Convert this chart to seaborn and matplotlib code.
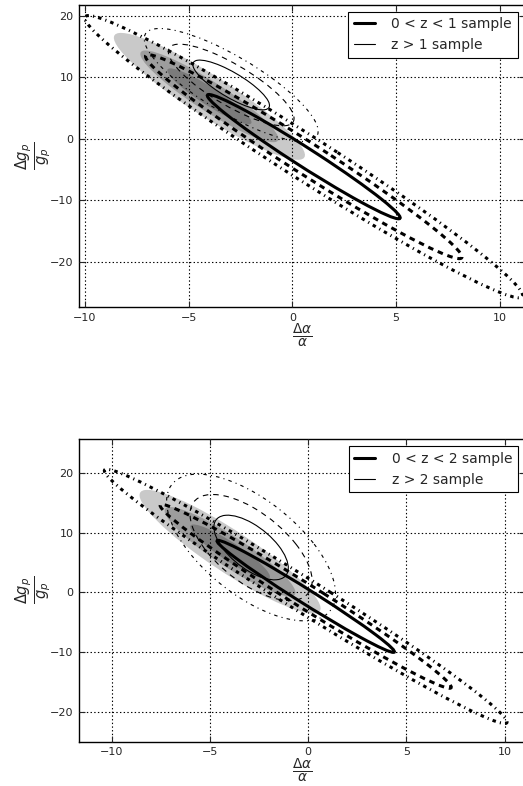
"""Confidence ellipses for dalpha/alpha vs dg_p/g_p, two redshift splits"""
import numpy as np
import matplotlib
matplotlib.use("Agg")
import matplotlib.pyplot as plt
from matplotlib.patches import Ellipse
from matplotlib.lines import Line2D
import seaborn as sns

# sqrt(chi2, 2 dof) for the 1, 2 and 3 sigma contours
levels = [1.515, 2.486, 3.439]

# full sample (shaded), same in both panels: centre, sigma_x, sigma_y, rho
full_center = [(-4.0, 6.9), (-3.97, 6.8)]
full_sigma = [(1.34, 3.0), (1.34, 3.0)]
full_rho = [-0.925, -0.915]

# low redshift sample (thick lines)
low_center = [(0.55, -2.9), (-0.12, -0.65)]
low_sigma = [(3.07, 6.67), (2.98, 6.17)]
low_rho = [-0.983, -0.988]

# high redshift sample (thin lines)
high_center = [(-2.95, 8.75), (-2.9, 7.5)]
high_sigma = [(1.22, 2.67), (1.25, 3.56)]
high_rho = [-0.82, -0.63]

legend_low = ["0 < z < 1 sample", "0 < z < 2 sample"]
legend_high = ["z > 1 sample", "z > 2 sample"]

xlims = [(-10.29, 11.2), (-11.66, 11.02)]
ylims = [(-27.4, 21.8), (-24.9, 25.6)]
xticks = [-10, -5, 0, 5, 10]
yticks = [-20, -10, 0, 10, 20]

fill_colors = ["#c9c9c9", "#9d9d9d", "#7b7b7b"]
dash_styles = ["-", (0, (4, 3.5)), (0, (2.5, 3, 0.8, 3))]

sns.set_style("ticks")
plt.rcParams["font.family"] = ["DejaVu Sans"]
plt.rcParams["lines.scale_dashes"] = False
plt.rcParams["xtick.direction"] = "in"
plt.rcParams["ytick.direction"] = "in"


def ellipse_geom(center, sigma, rho, k):
    """Largeur, hauteur et angle de l'ellipse de niveau k."""
    sx, sy = sigma
    cov = np.array([[sx**2, rho * sx * sy], [rho * sx * sy, sy**2]])
    vals, vecs = np.linalg.eigh(cov)
    big = vecs[:, 1]
    angle = np.degrees(np.arctan2(big[1], big[0]))
    return 2 * k * np.sqrt(vals[1]), 2 * k * np.sqrt(vals[0]), angle


fig = plt.figure(figsize=(5.23, 7.86), dpi=100)
axes = [fig.add_axes([0.151, 0.609, 0.852, 0.385]),
        fig.add_axes([0.151, 0.0564, 0.852, 0.385])]

for i, ax in enumerate(axes):
    # shaded contours, outer first
    for k, col in zip(levels[::-1], fill_colors):
        w, h, a = ellipse_geom(full_center[i], full_sigma[i], full_rho[i], k)
        ax.add_patch(Ellipse(full_center[i], w, h, angle=a, facecolor=col,
                             edgecolor="none", zorder=1))

    for k, ls in zip(levels, dash_styles):
        w, h, a = ellipse_geom(low_center[i], low_sigma[i], low_rho[i], k)
        ax.add_patch(Ellipse(low_center[i], w, h, angle=a, fill=False,
                             edgecolor="black", lw=2.2, linestyle=ls, zorder=3))
        w, h, a = ellipse_geom(high_center[i], high_sigma[i], high_rho[i], k)
        ax.add_patch(Ellipse(high_center[i], w, h, angle=a, fill=False,
                             edgecolor="black", lw=0.8, linestyle=ls, zorder=3))

    ax.set_xlim(*xlims[i])
    ax.set_ylim(*ylims[i])
    ax.set_xticks(xticks)
    ax.set_yticks(yticks)
    ax.grid(True, color="black", linestyle=":", linewidth=0.8)
    ax.set_axisbelow(False)
    ax.tick_params(which="both", direction="in", top=True, right=True,
                   length=4, width=0.8, labelsize=8, pad=4)
    for sp in ax.spines.values():
        sp.set_color("black")
        sp.set_linewidth(1.0)

    ax.set_xlabel(r"$\frac{\Delta\alpha}{\alpha}$", fontsize=14, labelpad=-1)
    ax.set_ylabel(r"$\frac{\Delta g_p}{g_p}$", fontsize=15, labelpad=-3)

    handles = [Line2D([], [], color="black", lw=2.2),
               Line2D([], [], color="black", lw=0.8)]
    leg = ax.legend(handles, [legend_low[i], legend_high[i]], loc="upper right",
                    fontsize=10, handlelength=1.5, handletextpad=1.2,
                    fancybox=False, framealpha=1, borderaxespad=0.5)
    leg.get_frame().set_edgecolor("black")
    leg.get_frame().set_linewidth(0.8)

plt.savefig("out.png", dpi=100)
